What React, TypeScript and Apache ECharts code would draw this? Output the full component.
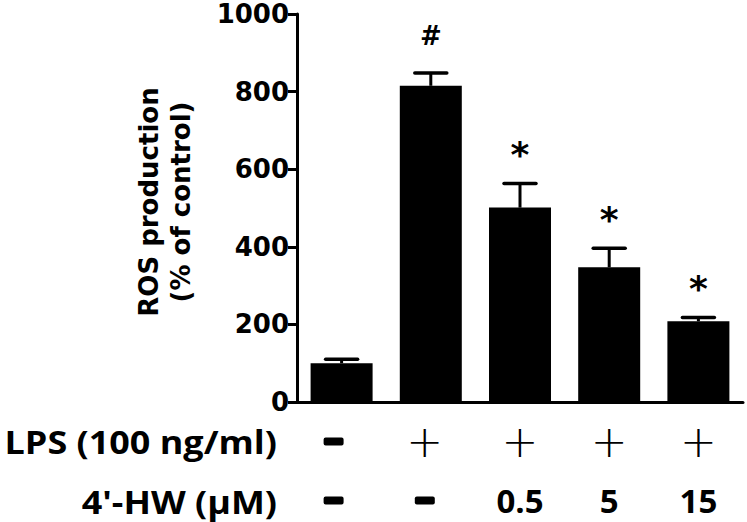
import React, { useEffect, useRef } from "react";
import * as echarts from "echarts";

const groups = ["Control", "LPS", "LPS + 4'-HW 0.5", "LPS + 4'-HW 5", "LPS + 4'-HW 15"];
const lpsRow = ["-", "+", "+", "+", "+"];
const hwRow = ["-", "-", "0.5", "5", "15"];
const rosMean = [100, 815, 501, 347, 208];
const rosErr = [10, 33, 62, 49, 10];
const marks = ["", "#", "*", "*", "*"];
const yMin = 0;
const yMax = 1000;
const yStep = 200;
const yTitle = "ROS production\n(% of control)";
const rowHeaders = ["LPS (100 ng/ml)", "4'-HW (\u03bcM)"];

function tok(s: string, idx: number) {
  let t: string;
  if (s === "-") t = "{dash|-}";
  else if (s === "+") t = "{plus|+}";
  else t = "{num|" + s + "}";
  if (idx === 0) t += "{gapA| }";
  if (idx === 1) t += "{gapB| }";
  return t;
}

export default function App() {
  const ref = useRef<HTMLDivElement>(null);
  useEffect(() => {
    if (!ref.current) return;
    const chart = echarts.init(ref.current, null, { renderer: "svg" });
    const option: any = {
      animation: false,
      backgroundColor: "#fff",
      grid: { left: 297, right: 4, top: 14, bottom: 120, containLabel: false },
      xAxis: {
        type: "category",
        data: groups,
        axisLine: { show: true, lineStyle: { color: "#000", width: 3 } },
        axisTick: { show: false },
        axisLabel: {
          interval: 0,
          margin: 10,
          formatter: (_v: string, idx: number) => tok(lpsRow[idx], idx) + "\n" + tok(hwRow[idx], idx),
          rich: {
            dash: {
              fontSize: 6,
              color: "#000",
              backgroundColor: "#000",
              padding: [1, 9],
              lineHeight: 59,
              borderRadius: 2,
            },
            plus: {
              fontFamily: "DejaVu Sans",
              fontWeight: 200,
              fontSize: 44,
              color: "#000",
              lineHeight: 59,
            },
            num: {
              fontFamily: "Open Sans",
              fontWeight: "bold",
              fontSize: 33,
              color: "#000",
              lineHeight: 59,
            },
            gapA: { width: 16, fontSize: 6, lineHeight: 59, color: "rgba(0,0,0,0)" },
            gapB: { width: 12, fontSize: 6, lineHeight: 59, color: "rgba(0,0,0,0)" },
          },
        },
      },
      yAxis: {
        type: "value",
        min: yMin,
        max: yMax,
        interval: yStep,
        splitLine: { show: false },
        axisLine: { show: true, lineStyle: { color: "#000", width: 3 } },
        axisTick: { show: true, length: 9, lineStyle: { color: "#000", width: 3 } },
        axisLabel: {
          margin: 8,
          color: "#000",
          fontFamily: "DejaVu Sans",
          fontWeight: "bold",
          fontSize: 26,
          lineHeight: 22,
          formatter: (v: number) => String(v),
        },
        name: yTitle,
        nameLocation: "middle",
        nameGap: 100,
        nameRotate: 90,
        nameTextStyle: {
          fontFamily: "DejaVu Sans",
          fontWeight: "bold",
          fontSize: 26,
          lineHeight: 32,
          color: "#000",
          padding: [0, 0, 0, 12],
        },
      },
      series: [
        {
          type: "bar",
          data: rosMean,
          barWidth: 62,
          itemStyle: { color: "#000" },
          z: 2,
        },
        {
          type: "custom",
          z: 3,
          data: rosMean.map((m, i) => [i, m, rosErr[i]]),
          renderItem: (params: any, api: any) => {
            const i = api.value(0);
            const m = api.value(1);
            const e = api.value(2);
            const base = api.coord([i, m]);
            const top = api.coord([i, m + e]);
            const mark = marks[params.dataIndex];
            const children: any[] = [
              {
                type: "line",
                shape: { x1: base[0], y1: base[1], x2: top[0], y2: top[1] },
                style: { stroke: "#000", lineWidth: 3 },
              },
              {
                type: "line",
                shape: { x1: top[0] - 16, y1: top[1], x2: top[0] + 16, y2: top[1] },
                style: { stroke: "#000", lineWidth: 3.5, lineCap: "round" },
              },
            ];
            if (mark) {
              const star = mark === "*";
              children.push({
                type: "text",
                x: top[0],
                y: star ? top[1] - 29 : top[1] - 37,
                style: {
                  text: mark,
                  fill: "#000",
                  font: star ? 'bold 36px "DejaVu Sans"' : 'bold 26px "DejaVu Sans"',
                  textAlign: "center",
                  textVerticalAlign: "middle",
                },
              });
            }
            return { type: "group", children };
          },
        },
      ],
      graphic: [
        {
          type: "text",
          x: 277,
          y: 441,
          scaleX: 1.09,
          style: {
            text: rowHeaders[0],
            fill: "#000",
            font: 'bold 33px "Open Sans"',
            textAlign: "right",
            textVerticalAlign: "middle",
          },
        },
        {
          type: "text",
          x: 277,
          y: 501,
          scaleX: 1.09,
          style: {
            text: rowHeaders[1],
            fill: "#000",
            font: 'bold 33px "Open Sans"',
            textAlign: "right",
            textVerticalAlign: "middle",
          },
        },
      ],
    };
    chart.setOption(option);
    return () => chart.dispose();
  }, []);
  return (
    <div
      ref={ref}
      style={{ position: "fixed", left: 0, top: 0, width: 747, height: 522, background: "#fff" }}
    />
  );
}
